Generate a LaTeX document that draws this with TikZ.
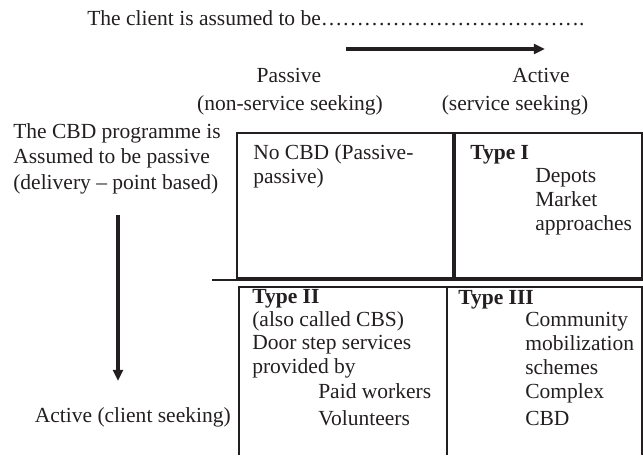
\documentclass[tikz,border=0pt]{standalone}
\usepackage{fontspec}
\setmainfont{Liberation Serif}
\usepackage{xcolor}
\usetikzlibrary{arrows.meta,positioning}
\definecolor{inkgray}{RGB}{35,31,32}

\begin{document}
\begin{tikzpicture}[x=0.025cm, y=-0.025cm,
    lbl/.style={inner sep=0pt, anchor=base west, align=left, text=inkgray,
                font=\fontsize{15.3}{16.9}\selectfont},
    cell/.style={draw=inkgray, line width=1.3pt},
    cellthin/.style={draw=inkgray, line width=0.8pt},
    arr/.style={draw=inkgray, line width=2.2pt, -{Triangle[length=8pt,width=7pt]}}
]
    \useasboundingbox (0,0) rectangle (643,455);

    \node[lbl] (title) at (87,25) {The client is assumed to be……………………………….};
    \coordinate (clientfrom) at (346,49);
    \coordinate (clientto) at (545,49);
    \draw[arr] (clientfrom) -- (clientto);

    \node[lbl, anchor=base] (passive) at (289,82) {Passive};
    \node[lbl, anchor=base] (passivesub) at (290,110) {(non-service seeking)};
    \node[lbl, anchor=base] (active) at (541,82) {Active};
    \node[lbl, anchor=base] (activesub) at (515,110) {(service seeking)};

    \node[lbl, font=\fontsize{15.3}{17.8}\selectfont] (cbd) at (13,189)
        {The CBD programme is\\Assumed to be passive\\(delivery – point based)};
    \coordinate (cbdfrom) at (118,215);
    \coordinate (cbdto) at (118,381);
    \draw[arr] (cbdfrom) -- (cbdto);
    \node[lbl, anchor=base east] (clientseek) at (231,422) {Active (client seeking)};

    \draw[cell] (237,133) rectangle (453,278);
    \draw[cell] (455,133) rectangle (642,278);
    \draw[inkgray, line width=2pt] (212,280) -- (643,280);
    \draw[cellthin] (239,455) |- (642,287) -- (642,455);
    \draw[cellthin] (447,287) -- (447,455);

    \node[lbl] (nocbd) at (253,183) {No CBD (Passive-\\passive)};
    \node[lbl] (type1) at (470,159) {\textbf{Type I}};
    \node[lbl] (type1list) at (535,230) {Depots\\Market\\approaches};

    \node[lbl, font=\fontsize{15.3}{16.5}\selectfont] (type2) at (252,373)
        {\textbf{Type II}\\(also called CBS)\\Door step services\\provided by};
    \node[lbl] (paid) at (318,398) {Paid workers};
    \node[lbl] (volunteers) at (318,425) {Volunteers};

    \node[lbl] (type3) at (458,304) {\textbf{Type III}};
    \node[lbl] (type3list) at (525,398) {Community\\mobilization\\schemes\\Complex};
    \node[lbl] (type3cbd) at (525,425) {CBD};
\end{tikzpicture}
\end{document}
